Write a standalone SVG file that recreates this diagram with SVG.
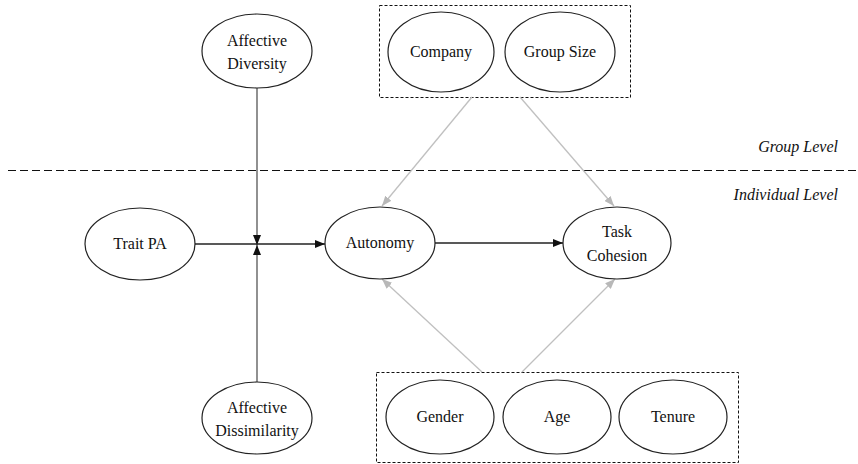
<svg xmlns="http://www.w3.org/2000/svg" width="858" height="464" viewBox="0 0 858 464">
<style>
.n ellipse{fill:#fff;stroke:#222;stroke-width:1.2}
text{font-family:"Liberation Serif","Times New Roman",serif;font-size:16px;fill:#111;text-anchor:middle}
.lvl{font-style:italic;text-anchor:end}
.box{fill:none;stroke:#111;stroke-width:1;stroke-dasharray:3,2}
.k{stroke:#222;stroke-width:1.3;fill:none}
.v{stroke:#555;stroke-width:1.3;fill:none}
.g{stroke:#c0c0c0;stroke-width:1.3;fill:none}
</style>
<defs>
<marker id="ab" markerWidth="10" markerHeight="8" refX="10" refY="4" orient="auto" markerUnits="userSpaceOnUse"><path d="M0,0 L10,4 L0,8 Z" fill="#111"/></marker>
<marker id="ag" markerWidth="10" markerHeight="8" refX="10" refY="4" orient="auto" markerUnits="userSpaceOnUse"><path d="M0,0 L10,4 L0,8 Z" fill="#b8b8b8"/></marker>
</defs>
<line x1="8" y1="170.5" x2="858" y2="170.5" stroke="#111" stroke-width="1.2" stroke-dasharray="8,4"/>
<text class="lvl" x="838" y="152">Group Level</text>
<text class="lvl" x="838" y="200">Individual Level</text>
<rect class="box" x="379.5" y="5.5" width="251" height="92"/>
<rect class="box" x="376.5" y="372.5" width="362" height="90"/>
<g id="connectors">
<line class="v" x1="257" y1="88" x2="257" y2="245" marker-end="url(#ab)"/>
<line class="v" x1="257" y1="382" x2="257" y2="245" marker-end="url(#ab)"/>
<line class="k" x1="194" y1="244" x2="325" y2="244" marker-end="url(#ab)"/>
<line class="k" x1="435" y1="243" x2="563" y2="243" marker-end="url(#ab)"/>
<line class="g" x1="472" y1="97" x2="382" y2="206" marker-end="url(#ag)"/>
<line class="g" x1="520" y1="97" x2="614" y2="206" marker-end="url(#ag)"/>
<line class="g" x1="482" y1="372" x2="382" y2="279" marker-end="url(#ag)"/>
<line class="g" x1="522" y1="372" x2="615" y2="279" marker-end="url(#ag)"/>
</g>
<g id="affective-diversity" class="n"><ellipse cx="257" cy="51" rx="55" ry="37"/><text x="257" y="46">Affective</text><text x="257" y="69">Diversity</text></g>
<g id="company" class="n"><ellipse cx="441" cy="52" rx="53" ry="40"/><text x="441" y="57">Company</text></g>
<g id="group-size" class="n"><ellipse cx="560" cy="52" rx="55" ry="40"/><text x="560" y="57">Group Size</text></g>
<g id="trait-pa" class="n"><ellipse cx="140" cy="244" rx="55" ry="36"/><text x="140" y="249">Trait PA</text></g>
<g id="autonomy" class="n"><ellipse cx="380" cy="243" rx="55" ry="36"/><text x="380" y="248">Autonomy</text></g>
<g id="task-cohesion" class="n"><ellipse cx="617" cy="243" rx="54" ry="36"/><text x="617" y="237">Task</text><text x="617" y="261">Cohesion</text></g>
<g id="affective-dissimilarity" class="n"><ellipse cx="257" cy="418" rx="55" ry="36"/><text x="257" y="413">Affective</text><text x="257" y="436">Dissimilarity</text></g>
<g id="gender" class="n"><ellipse cx="440" cy="417" rx="54" ry="37"/><text x="440" y="422">Gender</text></g>
<g id="age" class="n"><ellipse cx="557" cy="417" rx="54" ry="37"/><text x="557" y="422">Age</text></g>
<g id="tenure" class="n"><ellipse cx="673" cy="417" rx="54" ry="37"/><text x="673" y="422">Tenure</text></g>
</svg>
